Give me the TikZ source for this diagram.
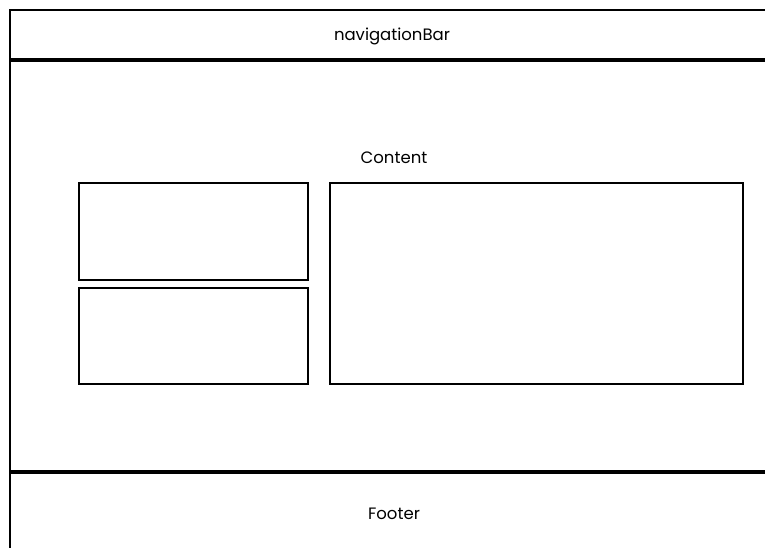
\documentclass[tikz,border=0pt]{standalone}
\usepackage{fontspec}
\setmainfont{Poppins}
\begin{document}
\begin{tikzpicture}[x=1pt,y=-1pt]
		\useasboundingbox (0,0) rectangle (765,548);
		\begin{scope}
		\clip (0,0) rectangle (765,548);
		\draw[line width=2pt] (10,10) rectangle (775,560);
		\end{scope}
		\draw[line width=3.5pt] (10,60) -- (765,60);
		\draw[line width=3.5pt] (10,472) -- (765,472);
		\draw[line width=1.6pt] (79,183) rectangle (308,280);
		\draw[line width=1.6pt] (79,288) rectangle (308,384);
		\draw[line width=1.6pt] (330,183) rectangle (743,384);
		\node[font=\fontsize{16.5}{19}\selectfont] (nav) at (392,36) {navigationBar};
		\node[font=\fontsize{16.5}{19}\selectfont] (content) at (394,158) {Content};
		\node[font=\fontsize{16.5}{19}\selectfont] (footer) at (394,514) {Footer};
	\end{tikzpicture}
\end{document}
